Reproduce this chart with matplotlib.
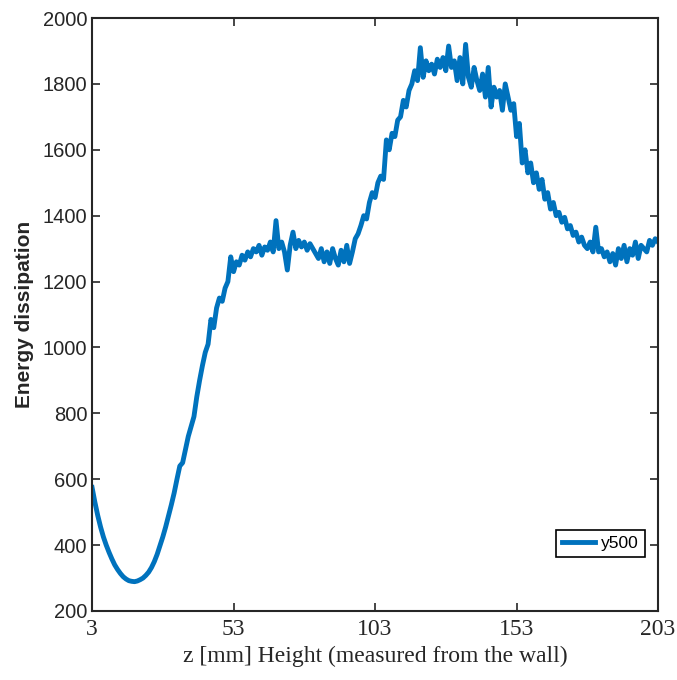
import numpy as np
import matplotlib.pyplot as plt

# z [mm], 1 mm steps from 3 to 203
z = np.arange(3, 204, 1)

energia = [
    575, 530, 490, 455, 425, 400, 378, 358, 340, 326,
    314, 304, 297, 292, 290, 289, 291, 295, 300, 308,
    318, 332, 350, 372, 398, 425, 455, 488, 522, 558,
    600, 640, 650, 690, 730, 760, 790, 850, 900, 945,
    985, 1010, 1085, 1060, 1120, 1150, 1140, 1180, 1200, 1275,
    1230, 1260, 1250, 1280, 1265, 1290, 1275, 1300, 1290, 1310,
    1280, 1305, 1295, 1320, 1290, 1385, 1300, 1320, 1290, 1235,
    1310, 1350, 1300, 1325, 1305, 1320, 1295, 1315, 1300, 1285,
    1270, 1300, 1260, 1290, 1255, 1300, 1270, 1250, 1295, 1260,
    1310, 1255, 1290, 1330, 1345, 1370, 1400, 1390, 1440, 1470,
    1455, 1500, 1520, 1510, 1630, 1600, 1650, 1640, 1690, 1700,
    1750, 1730, 1780, 1800, 1840, 1810, 1910, 1820, 1870, 1840,
    1860, 1830, 1875, 1850, 1880, 1840, 1915, 1850, 1870, 1810,
    1880, 1800, 1920, 1820, 1790, 1850, 1810, 1780, 1830, 1760,
    1850, 1730, 1790, 1760, 1780, 1720, 1800, 1760, 1720, 1740,
    1640, 1680, 1560, 1600, 1530, 1560, 1500, 1530, 1480, 1510,
    1450, 1470, 1420, 1440, 1400, 1410, 1380, 1395, 1360, 1370,
    1340, 1350, 1320, 1335, 1310, 1300, 1320, 1290, 1365, 1290,
    1300, 1275, 1290, 1260, 1285, 1250, 1300, 1270, 1310, 1260,
    1300, 1280, 1320, 1270, 1310, 1300, 1290, 1325, 1310, 1330, 1320,
]

xticks = [3, 53, 103, 153, 203]
yticks = [200, 400, 600, 800, 1000, 1200, 1400, 1600, 1800, 2000]

fig = plt.figure(figsize=(6.77, 6.80), dpi=100)
ax = fig.add_axes([0.136, 0.1015, 0.836, 0.872])

ax.plot(z, energia, color="#0072BD", linewidth=3.5, label="y500")

ax.set_xlim(3, 203)
ax.set_ylim(200, 2000)
ax.set_xticks(xticks)
ax.set_yticks(yticks)

for s in ax.spines.values():
    s.set_linewidth(1.5)
    s.set_color("#262626")

ax.tick_params(direction="in", top=True, right=True, length=6, width=1.2, color="#262626")
for lab in ax.get_xticklabels():
    lab.set_fontfamily("Liberation Serif")
    lab.set_fontsize(17)
    lab.set_color("#262626")
for lab in ax.get_yticklabels():
    lab.set_fontfamily("Liberation Sans")
    lab.set_fontsize(14.5)
    lab.set_color("#262626")
ax.tick_params(axis="x", pad=6)

ax.set_xlabel("z [mm] Height (measured from the wall)", fontfamily="Liberation Serif",
              fontsize=17, color="#262626", labelpad=4)
ax.set_ylabel("Energy dissipation", fontfamily="Liberation Sans", fontweight="bold",
              fontsize=15, color="#262626", labelpad=6)

leg = ax.legend(loc="lower right", bbox_to_anchor=(0.977, 0.091), borderaxespad=0,
                fancybox=False, framealpha=1, handlelength=1.9, handletextpad=0.35,
                borderpad=0.35, prop={"family": "Liberation Sans", "size": 12.5})
leg.get_frame().set_edgecolor("black")
leg.get_frame().set_linewidth(1.2)

plt.savefig("out.png", dpi=100)
